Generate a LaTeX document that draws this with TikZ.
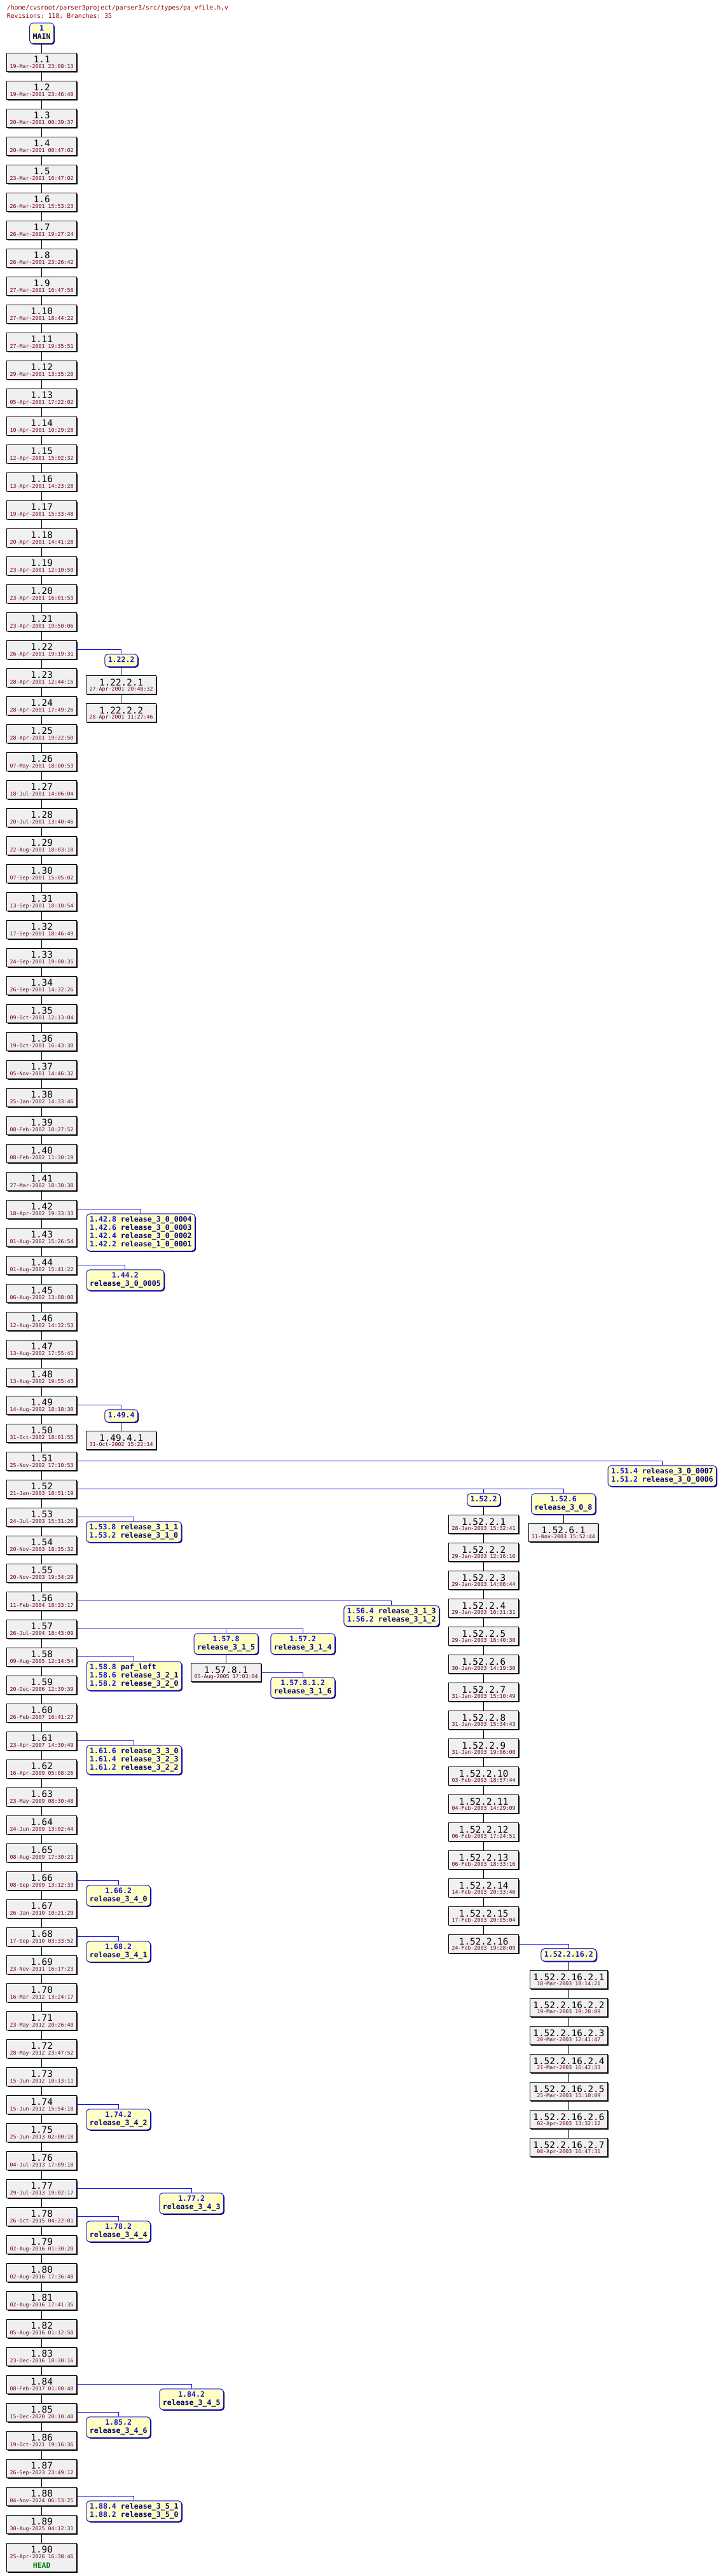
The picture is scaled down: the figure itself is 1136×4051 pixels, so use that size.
\documentclass[tikz,border=0pt]{standalone}
\usepackage{fontspec}
\setmonofont{DejaVu Sans Mono}
\usetikzlibrary{shadows}

\definecolor{revfill}{HTML}{F0F0F0}
\definecolor{tagfill}{HTML}{FFFFC4}
\definecolor{tagblue}{HTML}{1010E0}
\definecolor{tagnavy}{HTML}{000080}
\definecolor{datered}{HTML}{700028}
\definecolor{headred}{HTML}{900000}
\definecolor{headgreen}{HTML}{007A00}

\newcommand{\revno}[1]{{\fontsize{14.3}{14.3}\selectfont\rule{0pt}{15.6pt}#1}}
\newcommand{\revdate}[1]{{\fontsize{8.3}{8.4}\selectfont\color{datered}\rule[-5pt]{0pt}{5pt}#1}}
\newcommand{\revdatex}[1]{{\fontsize{8.3}{8.4}\selectfont\color{datered}#1}}
\newcommand{\headmark}{{\fontsize{11.5}{13}\selectfont\bfseries\color{headgreen}\rule[-6.3pt]{0pt}{6.3pt}HEAD}}
\newcommand{\tagno}[1]{{\color{tagblue}\rule[-3.5pt]{0pt}{13pt}#1}}
\newcommand{\tagname}[1]{{\color{tagnavy}\rule[-3.5pt]{0pt}{13pt}#1}}

\begin{document}
\begin{tikzpicture}[
  x=1pt, y=-1pt,
  revbox/.style = {rectangle, draw=black, line width=1pt, fill=revfill,
                   align=center, anchor=north,
                   inner xsep=5pt, inner ysep=0pt, minimum height=29pt,
                   font=\fontsize{8.3}{8.4}\selectfont\ttfamily,
                   drop shadow={shadow xshift=1.5pt, shadow yshift=-1.5pt,
                                opacity=1, fill=black}},
  tagbox/.style = {rectangle, rounded corners=5pt,
                   draw=tagblue, line width=1pt, fill=tagfill,
                   anchor=north, inner xsep=5pt, inner ysep=3.25pt,
                   font=\fontsize{11.6}{13}\selectfont\ttfamily\bfseries,
                   drop shadow={shadow xshift=1.5pt, shadow yshift=-1.5pt,
                                opacity=1, fill=tagnavy}},
  tagc/.style = {tagbox, align=center},
  tagl/.style = {tagbox, align=left},
  revline/.style = {draw=black, line width=1pt},
  brline/.style  = {draw=tagblue, line width=1pt},
]

\fill[white] (0,0) rectangle (1136,4051);
\useasboundingbox (0,0) rectangle (1136,4051);

%% ══ HEADER ═════════════════════════════════════════════════════════════
\node[anchor=base west, inner sep=0, text=headred,
      font=\fontsize{9.8}{12}\selectfont\ttfamily] (file) at (10.7, 15.3)
  {/home/cvsroot/parser3project/parser3/src/types/pa\_vfile.h,v};
\node[anchor=base west, inner sep=0, text=headred,
      font=\fontsize{9.8}{12}\selectfont\ttfamily] (stats) at (10.7, 28.3)
  {Revisions: 118, Branches: 35};

%% ══ TRUNK ══════════════════════════════════════════════════════════════
\node[tagc] (main) at (65.7, 35.7) {\tagno{1}\\\tagname{MAIN}};

\node[revbox] (r1-1)  at (65.7, 82.7)   {\revno{1.1}\\\revdate{19-Mar-2001 23:08:13}};
\node[revbox] (r1-2)  at (65.7, 126.7)  {\revno{1.2}\\\revdate{19-Mar-2001 23:46:40}};
\node[revbox] (r1-3)  at (65.7, 170.7)  {\revno{1.3}\\\revdate{20-Mar-2001 00:39:37}};
\node[revbox] (r1-4)  at (65.7, 214.7)  {\revno{1.4}\\\revdate{20-Mar-2001 00:47:02}};
\node[revbox] (r1-5)  at (65.7, 258.7)  {\revno{1.5}\\\revdate{23-Mar-2001 16:47:02}};
\node[revbox] (r1-6)  at (65.7, 302.7)  {\revno{1.6}\\\revdate{26-Mar-2001 15:53:23}};
\node[revbox] (r1-7)  at (65.7, 346.7)  {\revno{1.7}\\\revdate{26-Mar-2001 19:27:24}};
\node[revbox] (r1-8)  at (65.7, 390.7)  {\revno{1.8}\\\revdate{26-Mar-2001 23:26:42}};
\node[revbox] (r1-9)  at (65.7, 434.7)  {\revno{1.9}\\\revdate{27-Mar-2001 16:47:58}};
\node[revbox] (r1-10) at (65.7, 478.7)  {\revno{1.10}\\\revdate{27-Mar-2001 18:44:22}};
\node[revbox] (r1-11) at (65.7, 522.7)  {\revno{1.11}\\\revdate{27-Mar-2001 19:35:51}};
\node[revbox] (r1-12) at (65.7, 566.7)  {\revno{1.12}\\\revdate{29-Mar-2001 13:35:20}};
\node[revbox] (r1-13) at (65.7, 610.7)  {\revno{1.13}\\\revdate{05-Apr-2001 17:22:02}};
\node[revbox] (r1-14) at (65.7, 654.7)  {\revno{1.14}\\\revdate{10-Apr-2001 10:29:28}};
\node[revbox] (r1-15) at (65.7, 698.7)  {\revno{1.15}\\\revdate{12-Apr-2001 15:02:32}};
\node[revbox] (r1-16) at (65.7, 742.7)  {\revno{1.16}\\\revdate{13-Apr-2001 14:23:28}};
\node[revbox] (r1-17) at (65.7, 786.7)  {\revno{1.17}\\\revdate{19-Apr-2001 15:33:48}};
\node[revbox] (r1-18) at (65.7, 830.7)  {\revno{1.18}\\\revdate{20-Apr-2001 14:41:28}};
\node[revbox] (r1-19) at (65.7, 874.7)  {\revno{1.19}\\\revdate{23-Apr-2001 12:10:50}};
\node[revbox] (r1-20) at (65.7, 918.7)  {\revno{1.20}\\\revdate{23-Apr-2001 16:01:53}};
\node[revbox] (r1-21) at (65.7, 962.7)  {\revno{1.21}\\\revdate{23-Apr-2001 19:50:06}};
\node[revbox] (r1-22) at (65.7, 1006.7) {\revno{1.22}\\\revdate{26-Apr-2001 19:19:31}};
\node[revbox] (r1-23) at (65.7, 1050.7) {\revno{1.23}\\\revdate{28-Apr-2001 12:44:15}};
\node[revbox] (r1-24) at (65.7, 1094.7) {\revno{1.24}\\\revdate{28-Apr-2001 17:49:26}};
\node[revbox] (r1-25) at (65.7, 1138.7) {\revno{1.25}\\\revdate{28-Apr-2001 19:22:50}};
\node[revbox] (r1-26) at (65.7, 1182.7) {\revno{1.26}\\\revdate{07-May-2001 18:00:53}};
\node[revbox] (r1-27) at (65.7, 1226.7) {\revno{1.27}\\\revdate{18-Jul-2001 14:06:04}};
\node[revbox] (r1-28) at (65.7, 1270.7) {\revno{1.28}\\\revdate{20-Jul-2001 13:40:46}};
\node[revbox] (r1-29) at (65.7, 1314.7) {\revno{1.29}\\\revdate{22-Aug-2001 18:03:18}};
\node[revbox] (r1-30) at (65.7, 1358.7) {\revno{1.30}\\\revdate{07-Sep-2001 15:05:02}};
\node[revbox] (r1-31) at (65.7, 1402.7) {\revno{1.31}\\\revdate{13-Sep-2001 18:10:54}};
\node[revbox] (r1-32) at (65.7, 1446.7) {\revno{1.32}\\\revdate{17-Sep-2001 18:46:49}};
\node[revbox] (r1-33) at (65.7, 1490.7) {\revno{1.33}\\\revdate{24-Sep-2001 19:00:35}};
\node[revbox] (r1-34) at (65.7, 1534.7) {\revno{1.34}\\\revdate{26-Sep-2001 14:32:26}};
\node[revbox] (r1-35) at (65.7, 1578.7) {\revno{1.35}\\\revdate{09-Oct-2001 12:13:04}};
\node[revbox] (r1-36) at (65.7, 1622.7) {\revno{1.36}\\\revdate{19-Oct-2001 16:43:30}};
\node[revbox] (r1-37) at (65.7, 1666.7) {\revno{1.37}\\\revdate{05-Nov-2001 14:46:32}};
\node[revbox] (r1-38) at (65.7, 1710.7) {\revno{1.38}\\\revdate{25-Jan-2002 14:33:46}};
\node[revbox] (r1-39) at (65.7, 1754.7) {\revno{1.39}\\\revdate{08-Feb-2002 10:27:52}};
\node[revbox] (r1-40) at (65.7, 1798.7) {\revno{1.40}\\\revdate{08-Feb-2002 11:30:19}};
\node[revbox] (r1-41) at (65.7, 1842.7) {\revno{1.41}\\\revdate{27-Mar-2002 18:30:38}};
\node[revbox] (r1-42) at (65.7, 1886.7) {\revno{1.42}\\\revdate{18-Apr-2002 19:33:33}};
\node[revbox] (r1-43) at (65.7, 1930.7) {\revno{1.43}\\\revdate{01-Aug-2002 15:26:54}};
\node[revbox] (r1-44) at (65.7, 1974.7) {\revno{1.44}\\\revdate{01-Aug-2002 15:41:22}};
\node[revbox] (r1-45) at (65.7, 2018.7) {\revno{1.45}\\\revdate{06-Aug-2002 13:08:00}};
\node[revbox] (r1-46) at (65.7, 2062.7) {\revno{1.46}\\\revdate{12-Aug-2002 14:32:53}};
\node[revbox] (r1-47) at (65.7, 2106.7) {\revno{1.47}\\\revdate{13-Aug-2002 17:55:41}};
\node[revbox] (r1-48) at (65.7, 2150.7) {\revno{1.48}\\\revdate{13-Aug-2002 19:55:43}};
\node[revbox] (r1-49) at (65.7, 2194.7) {\revno{1.49}\\\revdate{14-Aug-2002 18:18:30}};
\node[revbox] (r1-50) at (65.7, 2238.7) {\revno{1.50}\\\revdate{31-Oct-2002 18:01:55}};
\node[revbox] (r1-51) at (65.7, 2282.7) {\revno{1.51}\\\revdate{25-Nov-2002 17:10:53}};
\node[revbox] (r1-52) at (65.7, 2326.7) {\revno{1.52}\\\revdate{21-Jan-2003 18:51:19}};
\node[revbox] (r1-53) at (65.7, 2370.7) {\revno{1.53}\\\revdate{24-Jul-2003 15:31:26}};
\node[revbox] (r1-54) at (65.7, 2414.7) {\revno{1.54}\\\revdate{20-Nov-2003 18:35:32}};
\node[revbox] (r1-55) at (65.7, 2458.7) {\revno{1.55}\\\revdate{20-Nov-2003 19:34:29}};
\node[revbox] (r1-56) at (65.7, 2502.7) {\revno{1.56}\\\revdate{11-Feb-2004 18:33:17}};
\node[revbox] (r1-57) at (65.7, 2546.7) {\revno{1.57}\\\revdate{26-Jul-2004 18:43:09}};
\node[revbox] (r1-58) at (65.7, 2590.7) {\revno{1.58}\\\revdate{09-Aug-2005 12:14:54}};
\node[revbox] (r1-59) at (65.7, 2634.7) {\revno{1.59}\\\revdate{20-Dec-2006 12:39:39}};
\node[revbox] (r1-60) at (65.7, 2678.7) {\revno{1.60}\\\revdate{26-Feb-2007 16:41:27}};
\node[revbox] (r1-61) at (65.7, 2722.7) {\revno{1.61}\\\revdate{23-Apr-2007 14:30:49}};
\node[revbox] (r1-62) at (65.7, 2766.7) {\revno{1.62}\\\revdate{16-Apr-2009 05:08:26}};
\node[revbox] (r1-63) at (65.7, 2810.7) {\revno{1.63}\\\revdate{23-May-2009 08:30:48}};
\node[revbox] (r1-64) at (65.7, 2854.7) {\revno{1.64}\\\revdate{24-Jun-2009 13:02:44}};
\node[revbox] (r1-65) at (65.7, 2898.7) {\revno{1.65}\\\revdate{08-Aug-2009 17:30:21}};
\node[revbox] (r1-66) at (65.7, 2942.7) {\revno{1.66}\\\revdate{08-Sep-2009 13:12:33}};
\node[revbox] (r1-67) at (65.7, 2986.7) {\revno{1.67}\\\revdate{26-Jan-2010 10:21:29}};
\node[revbox] (r1-68) at (65.7, 3030.7) {\revno{1.68}\\\revdate{17-Sep-2010 03:33:52}};
\node[revbox] (r1-69) at (65.7, 3074.7) {\revno{1.69}\\\revdate{23-Nov-2011 16:17:23}};
\node[revbox] (r1-70) at (65.7, 3118.7) {\revno{1.70}\\\revdate{16-Mar-2012 13:24:17}};
\node[revbox] (r1-71) at (65.7, 3162.7) {\revno{1.71}\\\revdate{23-May-2012 20:26:40}};
\node[revbox] (r1-72) at (65.7, 3206.7) {\revno{1.72}\\\revdate{28-May-2012 23:47:52}};
\node[revbox] (r1-73) at (65.7, 3250.7) {\revno{1.73}\\\revdate{15-Jun-2012 10:13:11}};
\node[revbox] (r1-74) at (65.7, 3294.7) {\revno{1.74}\\\revdate{15-Jun-2012 15:54:18}};
\node[revbox] (r1-75) at (65.7, 3338.7) {\revno{1.75}\\\revdate{25-Jun-2013 02:00:18}};
\node[revbox] (r1-76) at (65.7, 3382.7) {\revno{1.76}\\\revdate{04-Jul-2013 17:09:18}};
\node[revbox] (r1-77) at (65.7, 3426.7) {\revno{1.77}\\\revdate{29-Jul-2013 19:02:17}};
\node[revbox] (r1-78) at (65.7, 3470.7) {\revno{1.78}\\\revdate{26-Oct-2015 04:22:01}};
\node[revbox] (r1-79) at (65.7, 3514.7) {\revno{1.79}\\\revdate{02-Aug-2016 01:30:20}};
\node[revbox] (r1-80) at (65.7, 3558.7) {\revno{1.80}\\\revdate{02-Aug-2016 17:36:48}};
\node[revbox] (r1-81) at (65.7, 3602.7) {\revno{1.81}\\\revdate{02-Aug-2016 17:41:35}};
\node[revbox] (r1-82) at (65.7, 3646.7) {\revno{1.82}\\\revdate{05-Aug-2016 01:12:50}};
\node[revbox] (r1-83) at (65.7, 3690.7) {\revno{1.83}\\\revdate{23-Dec-2016 18:30:16}};
\node[revbox] (r1-84) at (65.7, 3734.7) {\revno{1.84}\\\revdate{08-Feb-2017 01:00:48}};
\node[revbox] (r1-85) at (65.7, 3778.7) {\revno{1.85}\\\revdate{15-Dec-2020 20:10:40}};
\node[revbox] (r1-86) at (65.7, 3822.7) {\revno{1.86}\\\revdate{19-Oct-2021 19:16:36}};
\node[revbox] (r1-87) at (65.7, 3866.7) {\revno{1.87}\\\revdate{26-Sep-2023 23:49:12}};
\node[revbox] (r1-88) at (65.7, 3910.7) {\revno{1.88}\\\revdate{04-Nov-2024 06:53:25}};
\node[revbox] (r1-89) at (65.7, 3954.7) {\revno{1.89}\\\revdate{30-Aug-2025 04:12:31}};
\node[revbox, minimum height=43pt] (r1-90) at (65.7, 3998.7)
  {\revno{1.90}\\\revdatex{25-Apr-2026 16:38:46}\\[4.3pt]\headmark};

\draw[revline] (main) -- (r1-1);
\draw[revline] (r1-1) -- (r1-2) -- (r1-3) -- (r1-4) -- (r1-5) -- (r1-6)
  -- (r1-7) -- (r1-8) -- (r1-9) -- (r1-10) -- (r1-11) -- (r1-12) -- (r1-13)
  -- (r1-14) -- (r1-15) -- (r1-16) -- (r1-17) -- (r1-18) -- (r1-19)
  -- (r1-20) -- (r1-21) -- (r1-22) -- (r1-23) -- (r1-24) -- (r1-25)
  -- (r1-26) -- (r1-27) -- (r1-28) -- (r1-29) -- (r1-30) -- (r1-31)
  -- (r1-32) -- (r1-33) -- (r1-34) -- (r1-35) -- (r1-36) -- (r1-37)
  -- (r1-38) -- (r1-39) -- (r1-40) -- (r1-41) -- (r1-42) -- (r1-43)
  -- (r1-44) -- (r1-45) -- (r1-46) -- (r1-47) -- (r1-48) -- (r1-49);
\draw[revline] (r1-49) -- (r1-50) -- (r1-51) -- (r1-52) -- (r1-53)
  -- (r1-54) -- (r1-55) -- (r1-56) -- (r1-57) -- (r1-58) -- (r1-59)
  -- (r1-60) -- (r1-61) -- (r1-62) -- (r1-63) -- (r1-64) -- (r1-65)
  -- (r1-66) -- (r1-67) -- (r1-68) -- (r1-69) -- (r1-70) -- (r1-71)
  -- (r1-72) -- (r1-73) -- (r1-74) -- (r1-75) -- (r1-76) -- (r1-77)
  -- (r1-78) -- (r1-79) -- (r1-80) -- (r1-81) -- (r1-82) -- (r1-83)
  -- (r1-84) -- (r1-85) -- (r1-86) -- (r1-87) -- (r1-88) -- (r1-89)
  -- (r1-90);

%% ══ BRANCH 1.22.2 ══════════════════════════════════════════════════════
\node[tagc] (b1-22-2) at (190.7, 1028.3) {\tagno{1.22.2}};
\node[revbox] (r1-22-2-1) at (190.7, 1062.4) {\revno{1.22.2.1}\\\revdate{27-Apr-2001 20:48:32}};
\node[revbox] (r1-22-2-2) at (190.7, 1106.4) {\revno{1.22.2.2}\\\revdate{28-Apr-2001 11:27:46}};
\draw[brline] (r1-22.east) -| (b1-22-2.north);
\draw[revline] (b1-22-2) -- (r1-22-2-1) -- (r1-22-2-2);

%% ══ TAGS 1.42 / 1.44 ═══════════════════════════════════════════════════
\node[tagl] (b1-42) at (221.4, 1908.3) {
  \tagno{1.42.8} \tagname{release\_3\_0\_0004}\\
  \tagno{1.42.6} \tagname{release\_3\_0\_0003}\\
  \tagno{1.42.4} \tagname{release\_3\_0\_0002}\\
  \tagno{1.42.2} \tagname{release\_1\_0\_0001}};
\draw[brline] (r1-42.east) -| (b1-42.north);

\node[tagc] (b1-44-2) at (196.9, 1996.3) {\tagno{1.44.2}\\\tagname{release\_3\_0\_0005}};
\draw[brline] (r1-44.east) -| (b1-44-2.north);

%% ══ BRANCH 1.49.4 ══════════════════════════════════════════════════════
\node[tagc] (b1-49-4) at (190.7, 2216.3) {\tagno{1.49.4}};
\node[revbox] (r1-49-4-1) at (190.7, 2250.4) {\revno{1.49.4.1}\\\revdate{31-Oct-2002 15:22:14}};
\draw[brline] (r1-49.east) -| (b1-49-4.north);
\draw[revline] (b1-49-4) -- (r1-49-4-1);

%% ══ TAGS 1.51 ══════════════════════════════════════════════════════════
\node[tagl] (b1-51) at (1041.4, 2304.3) {
  \tagno{1.51.4} \tagname{release\_3\_0\_0007}\\
  \tagno{1.51.2} \tagname{release\_3\_0\_0006}};
\draw[brline] (r1-51.east) -| (b1-51.north);

%% ══ BRANCHES 1.52.2 / 1.52.6 ═══════════════════════════════════════════
\node[tagc] (b1-52-2) at (760.7, 2348.3) {\tagno{1.52.2}};
\node[tagc] (b1-52-6) at (886, 2348.3) {\tagno{1.52.6}\\\tagname{release\_3\_0\_8}};
\draw[brline] (r1-52.east) -| (b1-52-6.north);
\draw[brline] (r1-52.east) -| (b1-52-2.north);

\node[revbox] (r1-52-6-1) at (886, 2395.4) {\revno{1.52.6.1}\\\revdate{11-Nov-2003 15:52:44}};
\draw[revline] (b1-52-6) -- (r1-52-6-1);

\node[revbox] (r1-52-2-1)  at (760.7, 2382.4) {\revno{1.52.2.1}\\\revdate{28-Jan-2003 15:32:41}};
\node[revbox] (r1-52-2-2)  at (760.7, 2426.4) {\revno{1.52.2.2}\\\revdate{29-Jan-2003 12:16:16}};
\node[revbox] (r1-52-2-3)  at (760.7, 2470.4) {\revno{1.52.2.3}\\\revdate{29-Jan-2003 14:06:44}};
\node[revbox] (r1-52-2-4)  at (760.7, 2514.4) {\revno{1.52.2.4}\\\revdate{29-Jan-2003 16:31:31}};
\node[revbox] (r1-52-2-5)  at (760.7, 2558.4) {\revno{1.52.2.5}\\\revdate{29-Jan-2003 16:40:30}};
\node[revbox] (r1-52-2-6)  at (760.7, 2602.4) {\revno{1.52.2.6}\\\revdate{30-Jan-2003 14:19:30}};
\node[revbox] (r1-52-2-7)  at (760.7, 2646.4) {\revno{1.52.2.7}\\\revdate{31-Jan-2003 15:10:49}};
\node[revbox] (r1-52-2-8)  at (760.7, 2690.4) {\revno{1.52.2.8}\\\revdate{31-Jan-2003 15:34:43}};
\node[revbox] (r1-52-2-9)  at (760.7, 2734.4) {\revno{1.52.2.9}\\\revdate{31-Jan-2003 19:06:00}};
\node[revbox] (r1-52-2-10) at (760.7, 2778.4) {\revno{1.52.2.10}\\\revdate{03-Feb-2003 18:57:44}};
\node[revbox] (r1-52-2-11) at (760.7, 2822.4) {\revno{1.52.2.11}\\\revdate{04-Feb-2003 14:29:09}};
\node[revbox] (r1-52-2-12) at (760.7, 2866.4) {\revno{1.52.2.12}\\\revdate{06-Feb-2003 17:24:51}};
\node[revbox] (r1-52-2-13) at (760.7, 2910.4) {\revno{1.52.2.13}\\\revdate{06-Feb-2003 18:33:16}};
\node[revbox] (r1-52-2-14) at (760.7, 2954.4) {\revno{1.52.2.14}\\\revdate{14-Feb-2003 20:33:46}};
\node[revbox] (r1-52-2-15) at (760.7, 2998.4) {\revno{1.52.2.15}\\\revdate{17-Feb-2003 20:05:04}};
\node[revbox] (r1-52-2-16) at (760.7, 3042.4) {\revno{1.52.2.16}\\\revdate{24-Feb-2003 19:28:09}};
\draw[revline] (b1-52-2) -- (r1-52-2-1) -- (r1-52-2-2) -- (r1-52-2-3)
  -- (r1-52-2-4) -- (r1-52-2-5) -- (r1-52-2-6) -- (r1-52-2-7)
  -- (r1-52-2-8) -- (r1-52-2-9) -- (r1-52-2-10) -- (r1-52-2-11)
  -- (r1-52-2-12) -- (r1-52-2-13) -- (r1-52-2-14) -- (r1-52-2-15)
  -- (r1-52-2-16);

%% ── sub-branch 1.52.2.16.2 ───────────────────────────────────────────────
\node[tagc] (b1-52-2-16-2) at (894.4, 3064) {\tagno{1.52.2.16.2}};
\draw[brline] (r1-52-2-16.east) -| (b1-52-2-16-2.north);
\node[revbox] (r1-52-2-16-2-1) at (894.4, 3098.1) {\revno{1.52.2.16.2.1}\\\revdate{18-Mar-2003 18:14:21}};
\node[revbox] (r1-52-2-16-2-2) at (894.4, 3142.1) {\revno{1.52.2.16.2.2}\\\revdate{19-Mar-2003 19:28:09}};
\node[revbox] (r1-52-2-16-2-3) at (894.4, 3186.1) {\revno{1.52.2.16.2.3}\\\revdate{20-Mar-2003 12:41:47}};
\node[revbox] (r1-52-2-16-2-4) at (894.4, 3230.1) {\revno{1.52.2.16.2.4}\\\revdate{21-Mar-2003 16:42:33}};
\node[revbox] (r1-52-2-16-2-5) at (894.4, 3274.1) {\revno{1.52.2.16.2.5}\\\revdate{25-Mar-2003 15:10:09}};
\node[revbox] (r1-52-2-16-2-6) at (894.4, 3318.1) {\revno{1.52.2.16.2.6}\\\revdate{02-Apr-2003 13:32:12}};
\node[revbox] (r1-52-2-16-2-7) at (894.4, 3362.1) {\revno{1.52.2.16.2.7}\\\revdate{08-Apr-2003 16:47:31}};
\draw[revline] (b1-52-2-16-2) -- (r1-52-2-16-2-1) -- (r1-52-2-16-2-2)
  -- (r1-52-2-16-2-3) -- (r1-52-2-16-2-4) -- (r1-52-2-16-2-5)
  -- (r1-52-2-16-2-6) -- (r1-52-2-16-2-7);

%% ══ TAGS 1.53 / 1.56 ═══════════════════════════════════════════════════
\node[tagl] (b1-53) at (210.4, 2392.3) {
  \tagno{1.53.8} \tagname{release\_3\_1\_1}\\
  \tagno{1.53.2} \tagname{release\_3\_1\_0}};
\draw[brline] (r1-53.east) -| (b1-53.north);

\node[tagl] (b1-56) at (615.8, 2524.3) {
  \tagno{1.56.4} \tagname{release\_3\_1\_3}\\
  \tagno{1.56.2} \tagname{release\_3\_1\_2}};
\draw[brline] (r1-56.east) -| (b1-56.north);

%% ══ BRANCHES 1.57.8 / 1.57.2 ═══════════════════════════════════════════
\node[tagc] (b1-57-8) at (355.6, 2568.3) {\tagno{1.57.8}\\\tagname{release\_3\_1\_5}};
\node[tagc] (b1-57-2) at (476.2, 2568.3) {\tagno{1.57.2}\\\tagname{release\_3\_1\_4}};
\draw[brline] (r1-57.east) -| (b1-57-2.north);
\draw[brline] (r1-57.east) -| (b1-57-8.north);

\node[revbox] (r1-57-8-1) at (355.6, 2615.4) {\revno{1.57.8.1}\\\revdate{05-Aug-2005 17:03:04}};
\draw[revline] (b1-57-8) -- (r1-57-8-1);

\node[tagc] (b1-57-8-1-2) at (476.2, 2637) {\tagno{1.57.8.1.2}\\\tagname{release\_3\_1\_6}};
\draw[brline] (r1-57-8-1.east) -| (b1-57-8-1-2.north);

%% ══ TAGS 1.58 … 1.88 ═══════════════════════════════════════════════════
\node[tagl] (b1-58) at (210.9, 2612.3) {
  \tagno{1.58.8} \tagname{paf\_left}\\
  \tagno{1.58.6} \tagname{release\_3\_2\_1}\\
  \tagno{1.58.2} \tagname{release\_3\_2\_0}};
\draw[brline] (r1-58.east) -| (b1-58.north);

\node[tagl] (b1-61) at (210.9, 2744.3) {
  \tagno{1.61.6} \tagname{release\_3\_3\_0}\\
  \tagno{1.61.4} \tagname{release\_3\_2\_3}\\
  \tagno{1.61.2} \tagname{release\_3\_2\_2}};
\draw[brline] (r1-61.east) -| (b1-61.north);

\node[tagc] (b1-66-2) at (186.2, 2964.3) {\tagno{1.66.2}\\\tagname{release\_3\_4\_0}};
\draw[brline] (r1-66.east) -| (b1-66-2.north);

\node[tagc] (b1-68-2) at (186.2, 3052.3) {\tagno{1.68.2}\\\tagname{release\_3\_4\_1}};
\draw[brline] (r1-68.east) -| (b1-68-2.north);

\node[tagc] (b1-74-2) at (186.2, 3316.3) {\tagno{1.74.2}\\\tagname{release\_3\_4\_2}};
\draw[brline] (r1-74.east) -| (b1-74-2.north);

\node[tagc] (b1-77-2) at (301.2, 3448.3) {\tagno{1.77.2}\\\tagname{release\_3\_4\_3}};
\draw[brline] (r1-77.east) -| (b1-77-2.north);

\node[tagc] (b1-78-2) at (186.2, 3492.3) {\tagno{1.78.2}\\\tagname{release\_3\_4\_4}};
\draw[brline] (r1-78.east) -| (b1-78-2.north);

\node[tagc] (b1-84-2) at (301.2, 3756.3) {\tagno{1.84.2}\\\tagname{release\_3\_4\_5}};
\draw[brline] (r1-84.east) -| (b1-84-2.north);

\node[tagc] (b1-85-2) at (186.2, 3800.3) {\tagno{1.85.2}\\\tagname{release\_3\_4\_6}};
\draw[brline] (r1-85.east) -| (b1-85-2.north);

\node[tagl] (b1-88) at (210.9, 3932.3) {
  \tagno{1.88.4} \tagname{release\_3\_5\_1}\\
  \tagno{1.88.2} \tagname{release\_3\_5\_0}};
\draw[brline] (r1-88.east) -| (b1-88.north);

\end{tikzpicture}
\end{document}
